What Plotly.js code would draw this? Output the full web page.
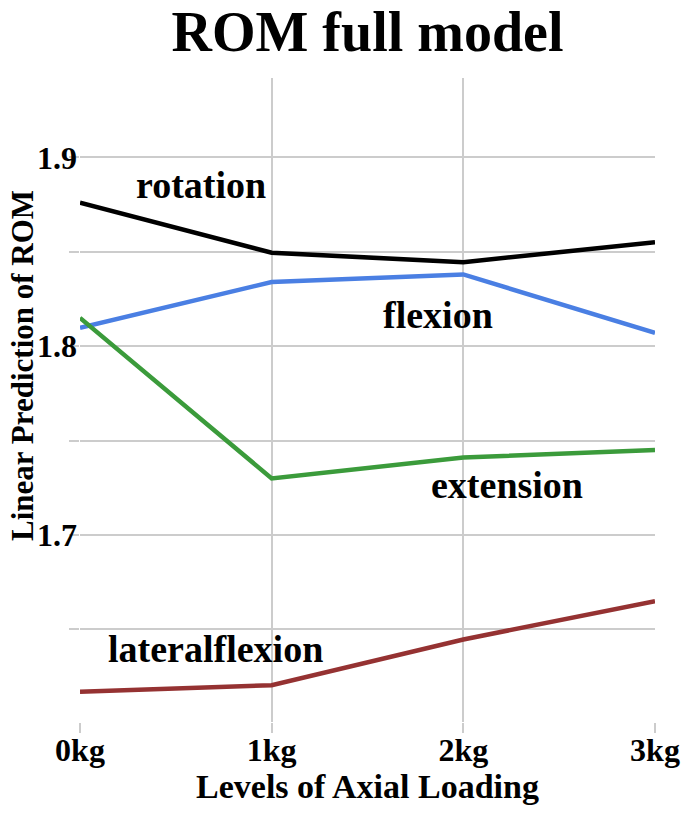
<!DOCTYPE html>
<html>
<head>
<meta charset="utf-8">
<script src="https://cdn.plot.ly/plotly-3.0.1.min.js"></script>
<style>html,body{margin:0;padding:0;background:#fff;}#chart{width:685px;height:813px;}</style>
</head>
<body>
<div id="chart"></div>
<script>
const categories = ["0kg", "1kg", "2kg", "3kg"];
const rotation = [1.876, 1.8495, 1.8445, 1.855];
const flexion = [1.8097, 1.834, 1.838, 1.807];
const extension = [1.815, 1.730, 1.741, 1.745];
const lateralflexion = [1.617, 1.6205, 1.6447, 1.665];
const yTickVals = [1.7, 1.8, 1.9];
const yTickText = ["1.7", "1.8", "1.9"];

const xIdx = categories.map((c, i) => i);
const font = "Liberation Serif, Times New Roman, serif";

const series = [
  {name: "rotation", y: rotation, color: "#000000"},
  {name: "flexion", y: flexion, color: "#4a7fe3"},
  {name: "extension", y: extension, color: "#3b9b3b"},
  {name: "lateralflexion", y: lateralflexion, color: "#953232"}
];

const traces = series.map(s => ({
  x: xIdx, y: s.y, type: "scatter", mode: "lines", name: s.name,
  line: {color: s.color, width: 4.5}, showlegend: false, hoverinfo: "skip"
}));

const labelPos = [
  {text: "rotation", x: 0.63, y: 1.8855},
  {text: "flexion", x: 1.87, y: 1.8165},
  {text: "extension", x: 2.23, y: 1.7265},
  {text: "lateralflexion", x: 0.705, y: 1.6395}
];

const annotations = labelPos.map(a => ({
  x: a.x, y: a.y, xref: "x", yref: "y", text: "<b>" + a.text + "</b>",
  showarrow: false, font: {size: 38, family: font, color: "#000"}
}));
annotations.push({
  x: -0.099, y: 0.553, xref: "paper", yref: "paper", textangle: -90,
  xanchor: "center", yanchor: "middle", showarrow: false,
  text: "<b>Linear Prediction of ROM</b>", font: {size: 31, family: font, color: "#000"}
});

const layout = {
  width: 685, height: 813,
  margin: {l: 80, r: 30, t: 78, b: 91},
  paper_bgcolor: "#fff", plot_bgcolor: "#fff",
  font: {family: font, color: "#000"},
  title: {text: "<b>ROM full model</b>", font: {size: 56, family: font, color: "#000"},
          x: 0.5, xref: "paper", xanchor: "center", y: 0.961, yanchor: "middle", yref: "container"},
  xaxis: {
    range: [0, 3], tickvals: xIdx, ticktext: categories.map(c => "<b>" + c + "</b>"),
    showgrid: true, gridcolor: "#cccccc", gridwidth: 2, zeroline: false, showline: false,
    ticks: "outside", ticklen: 10, tickcolor: "#cccccc", tickwidth: 2,
    tickfont: {size: 32, family: font}, ticklabelstandoff: -10,
    title: {text: "<b>Levels of Axial Loading</b>", font: {size: 34, family: font}, standoff: 0}
  },
  yaxis: {
    range: [1.601, 1.942], tickvals: yTickVals, ticktext: yTickText.map(t => "<b>" + t + "</b>"),
    showgrid: true, gridcolor: "#cccccc", gridwidth: 2, zeroline: false, showline: false,
    ticks: "", tickfont: {size: 32, family: font}, ticklabelstandoff: 2,
    minor: {dtick: 0.05, tick0: 1.65, showgrid: true, gridcolor: "#cccccc", gridwidth: 2,
            ticks: "outside", ticklen: 10, tickcolor: "#cccccc", tickwidth: 2}
  },
  annotations: annotations
};

Plotly.newPlot("chart", traces, layout, {displayModeBar: false, staticPlot: true});
</script>
</body>
</html>
